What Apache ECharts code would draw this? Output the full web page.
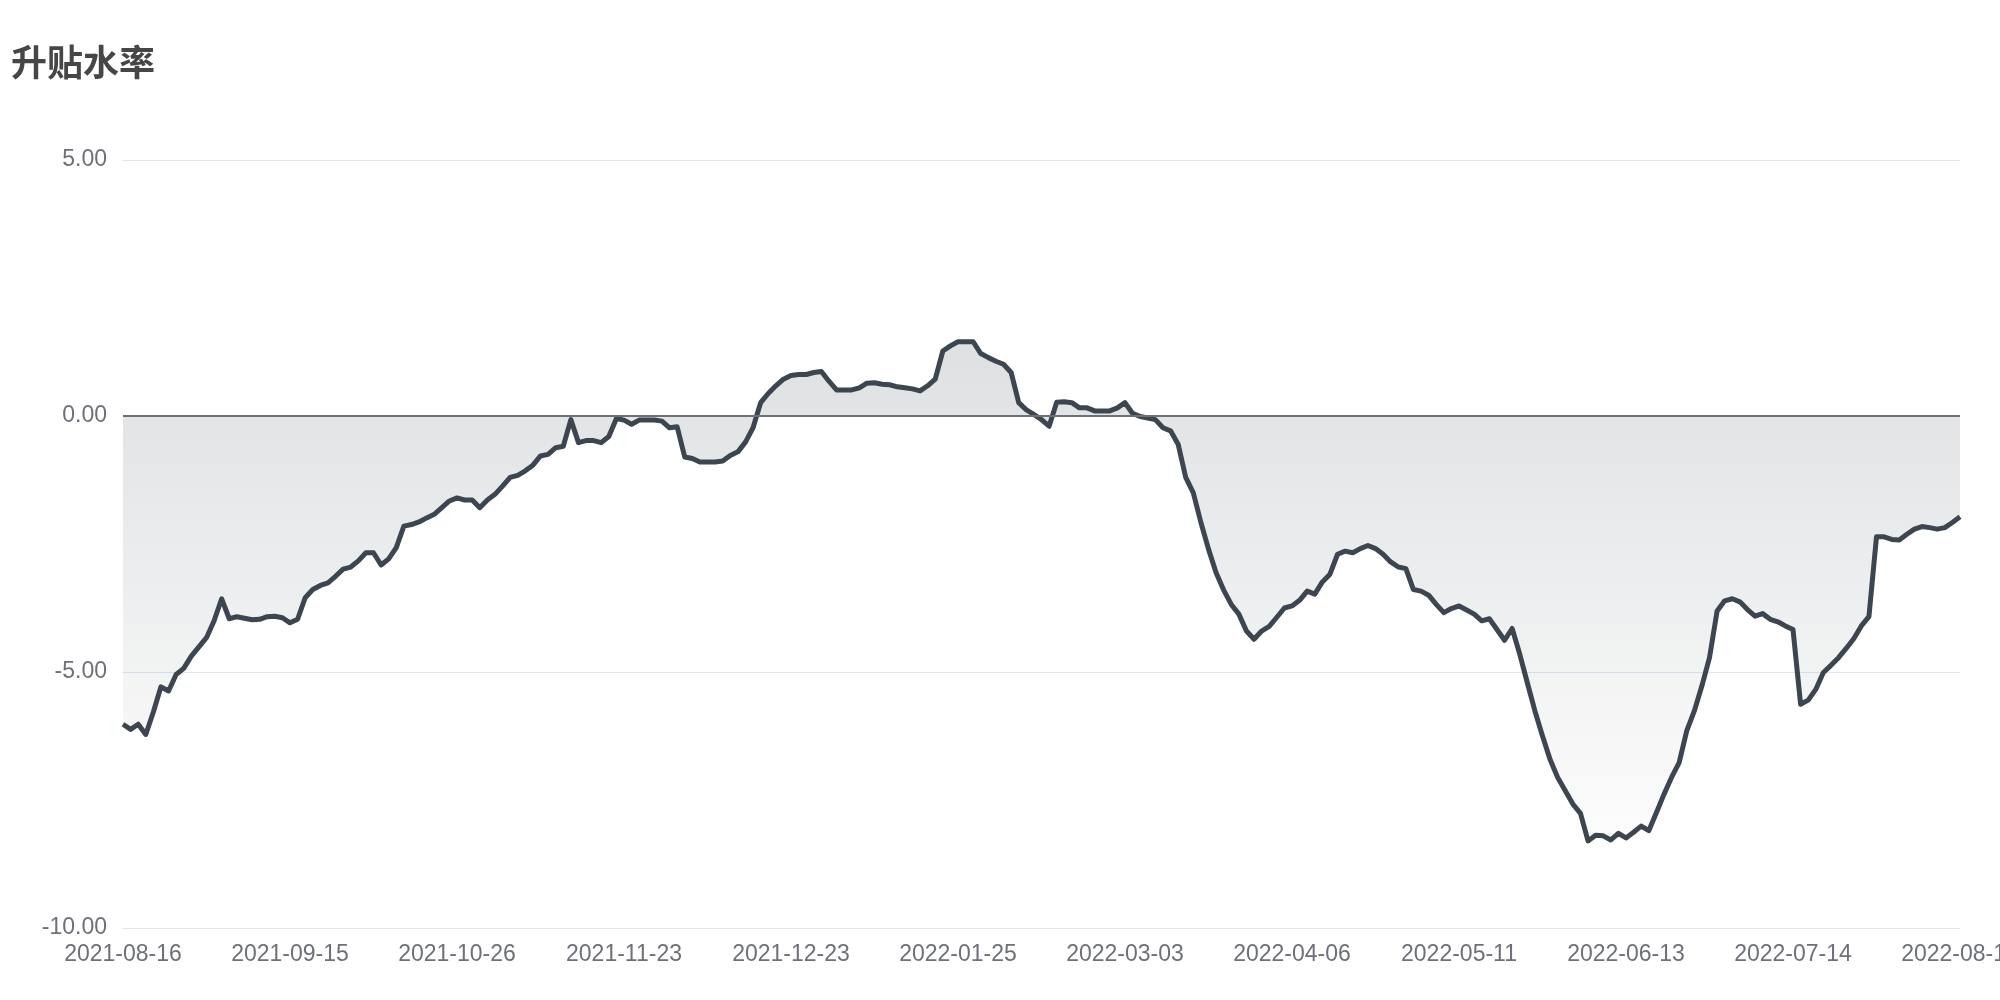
<!DOCTYPE html>
<html>
<head>
<meta charset="utf-8">
<script src="https://cdn.jsdelivr.net/npm/echarts@6/dist/echarts.min.js"></script>
<style>
html,body{margin:0;padding:0;background:#fff;}
#chart{width:2000px;height:1000px;}
</style>
</head>
<body>
<div id="chart"></div>
<script>
const titleText = '升贴水率';

const dates = [
'2021-08-16','2021-08-17','2021-08-18','2021-08-19','2021-08-20',
'2021-08-23','2021-08-24','2021-08-25','2021-08-26','2021-08-27',
'2021-08-30','2021-08-31','2021-09-01','2021-09-02','2021-09-03',
'2021-09-06','2021-09-07','2021-09-08','2021-09-09','2021-09-10',
'2021-09-13','2021-09-14','2021-09-15','2021-09-16','2021-09-17',
'2021-09-22','2021-09-23','2021-09-24','2021-09-27','2021-09-28',
'2021-09-29','2021-09-30','2021-10-08','2021-10-11','2021-10-12',
'2021-10-13','2021-10-14','2021-10-15','2021-10-18','2021-10-19',
'2021-10-20','2021-10-21','2021-10-22','2021-10-25','2021-10-26',
'2021-10-27','2021-10-28','2021-10-29','2021-10-30','2021-11-01',
'2021-11-02','2021-11-03','2021-11-04','2021-11-05','2021-11-06',
'2021-11-08','2021-11-09','2021-11-10','2021-11-11','2021-11-12',
'2021-11-15','2021-11-16','2021-11-17','2021-11-18','2021-11-19',
'2021-11-22','2021-11-23','2021-11-24','2021-11-25','2021-11-26',
'2021-11-29','2021-11-30','2021-12-01','2021-12-02','2021-12-03',
'2021-12-06','2021-12-07','2021-12-08','2021-12-09','2021-12-10',
'2021-12-13','2021-12-14','2021-12-15','2021-12-16','2021-12-17',
'2021-12-20','2021-12-21','2021-12-22','2021-12-23','2021-12-24',
'2021-12-27','2021-12-28','2021-12-29','2021-12-30','2021-12-31',
'2022-01-04','2022-01-05','2022-01-06','2022-01-07','2022-01-10',
'2022-01-11','2022-01-12','2022-01-13','2022-01-14','2022-01-17',
'2022-01-18','2022-01-19','2022-01-20','2022-01-21','2022-01-24',
'2022-01-25','2022-01-26','2022-01-27','2022-01-28','2022-02-07',
'2022-02-08','2022-02-09','2022-02-10','2022-02-11','2022-02-14',
'2022-02-15','2022-02-16','2022-02-17','2022-02-18','2022-02-21',
'2022-02-22','2022-02-23','2022-02-24','2022-02-25','2022-02-28',
'2022-03-01','2022-03-02','2022-03-03','2022-03-04','2022-03-07',
'2022-03-08','2022-03-09','2022-03-10','2022-03-11','2022-03-14',
'2022-03-15','2022-03-16','2022-03-17','2022-03-18','2022-03-21',
'2022-03-22','2022-03-23','2022-03-24','2022-03-25','2022-03-28',
'2022-03-29','2022-03-30','2022-03-31','2022-04-01','2022-04-06',
'2022-04-07','2022-04-08','2022-04-11','2022-04-12','2022-04-13',
'2022-04-14','2022-04-15','2022-04-18','2022-04-19','2022-04-20',
'2022-04-21','2022-04-22','2022-04-25','2022-04-26','2022-04-27',
'2022-04-28','2022-04-29','2022-05-05','2022-05-06','2022-05-09',
'2022-05-10','2022-05-11','2022-05-12','2022-05-13','2022-05-16',
'2022-05-17','2022-05-18','2022-05-19','2022-05-20','2022-05-23',
'2022-05-24','2022-05-25','2022-05-26','2022-05-27','2022-05-30',
'2022-05-31','2022-06-01','2022-06-02','2022-06-06','2022-06-07',
'2022-06-08','2022-06-09','2022-06-10','2022-06-13','2022-06-15',
'2022-06-16','2022-06-17','2022-06-20','2022-06-21','2022-06-22',
'2022-06-23','2022-06-24','2022-06-27','2022-06-28','2022-06-29',
'2022-06-30','2022-07-01','2022-07-04','2022-07-05','2022-07-06',
'2022-07-07','2022-07-08','2022-07-11','2022-07-12','2022-07-13',
'2022-07-14','2022-07-15','2022-07-18','2022-07-19','2022-07-20',
'2022-07-21','2022-07-22','2022-07-25','2022-07-26','2022-07-27',
'2022-07-28','2022-07-29','2022-08-01','2022-08-02','2022-08-03',
'2022-08-04','2022-08-05','2022-08-08','2022-08-09','2022-08-10',
'2022-08-11','2022-08-12','2022-08-15'
];

const basisRate = [
-6.02,-6.12,-6.02,-6.22,-5.78,-5.29,-5.37,-5.05,-4.93,-4.69,
-4.51,-4.33,-4.00,-3.57,-3.96,-3.92,-3.95,-3.98,-3.97,-3.92,
-3.91,-3.94,-4.04,-3.97,-3.55,-3.39,-3.31,-3.26,-3.13,-2.99,
-2.95,-2.83,-2.67,-2.67,-2.91,-2.79,-2.57,-2.15,-2.12,-2.07,
-1.99,-1.92,-1.79,-1.66,-1.60,-1.64,-1.64,-1.79,-1.64,-1.53,
-1.37,-1.20,-1.16,-1.07,-0.96,-0.78,-0.75,-0.62,-0.59,-0.07,
-0.52,-0.48,-0.48,-0.52,-0.40,-0.05,-0.08,-0.16,-0.08,-0.08,
-0.08,-0.10,-0.23,-0.21,-0.80,-0.83,-0.90,-0.90,-0.90,-0.88,
-0.77,-0.70,-0.51,-0.23,0.26,0.44,0.59,0.72,0.79,0.81,
0.81,0.85,0.87,0.68,0.51,0.51,0.51,0.55,0.64,0.65,
0.62,0.61,0.57,0.55,0.53,0.49,0.59,0.72,1.27,1.37,
1.45,1.45,1.45,1.22,1.14,1.07,1.01,0.85,0.26,0.12,
0.03,-0.07,-0.20,0.27,0.28,0.26,0.16,0.16,0.10,0.10,
0.10,0.16,0.26,0.05,-0.01,-0.04,-0.07,-0.23,-0.29,-0.55,
-1.20,-1.50,-2.08,-2.60,-3.06,-3.40,-3.68,-3.87,-4.20,-4.36,
-4.20,-4.11,-3.93,-3.75,-3.71,-3.60,-3.42,-3.48,-3.24,-3.09,
-2.70,-2.64,-2.67,-2.59,-2.53,-2.59,-2.70,-2.85,-2.95,-2.98,
-3.39,-3.42,-3.50,-3.68,-3.84,-3.76,-3.71,-3.79,-3.87,-4.00,
-3.96,-4.17,-4.38,-4.15,-4.65,-5.21,-5.76,-6.25,-6.71,-7.06,
-7.32,-7.58,-7.76,-8.30,-8.19,-8.20,-8.28,-8.15,-8.24,-8.13,
-8.01,-8.10,-7.75,-7.39,-7.06,-6.77,-6.15,-5.76,-5.27,-4.72,
-3.81,-3.61,-3.57,-3.63,-3.78,-3.91,-3.86,-3.97,-4.02,-4.10,
-4.17,-5.63,-5.55,-5.34,-5.01,-4.87,-4.72,-4.54,-4.35,-4.10,
-3.92,-2.36,-2.36,-2.41,-2.42,-2.31,-2.21,-2.16,-2.18,-2.21,
-2.18,-2.08,-1.97
];

const yMin = -10, yMax = 5, yStep = 5;

const chart = echarts.init(document.getElementById('chart'), null, {renderer: 'canvas'});
chart.setOption({
  animation: false,
  backgroundColor: '#ffffff',
  title: {
    text: titleText,
    left: 6,
    top: 39,
    textStyle: {
      fontSize: 36,
      fontWeight: 'bold',
      color: '#464646',
      fontFamily: '"Noto Sans CJK SC", sans-serif'
    }
  },
  grid: {left: 123, right: 40, top: 160, bottom: 72, containLabel: false, outerBoundsMode: 'none'},
  xAxis: {
    type: 'category',
    boundaryGap: false,
    data: dates,
    axisLine: {show: false},
    axisTick: {show: false},
    axisLabel: {
      interval: 21,
      color: '#6E7079',
      fontSize: 23,
      margin: 15,
      fontFamily: '"Liberation Sans", Arial, sans-serif'
    },
    splitLine: {show: false}
  },
  yAxis: {
    type: 'value',
    min: yMin,
    max: yMax,
    interval: yStep,
    axisLine: {show: false},
    axisTick: {show: false},
    axisLabel: {
      color: '#6E7079',
      fontSize: 23,
      margin: 16,
      fontFamily: '"Liberation Sans", Arial, sans-serif',
      formatter: v => v.toFixed(2)
    },
    splitLine: {lineStyle: {color: '#E0E6F1', width: 1}}
  },
  series: [{
    type: 'line',
    data: basisRate,
    showSymbol: false,
    symbol: 'none',
    lineStyle: {color: '#3D4650', width: 5, join: 'round'},
    itemStyle: {color: '#3D4650'},
    areaStyle: {
      color: new echarts.graphic.LinearGradient(0, 0, 0, 1, [
        {offset: 0, color: 'rgba(61,70,80,0.24)'},
        {offset: 1, color: 'rgba(61,70,80,0.02)'}
      ])
    },
    markLine: {
      silent: true,
      symbol: ['none', 'none'],
      label: {show: false},
      lineStyle: {color: '#6E7079', width: 2, type: 'solid'},
      data: [{yAxis: 0}]
    }
  }]
});
</script>
</body>
</html>
